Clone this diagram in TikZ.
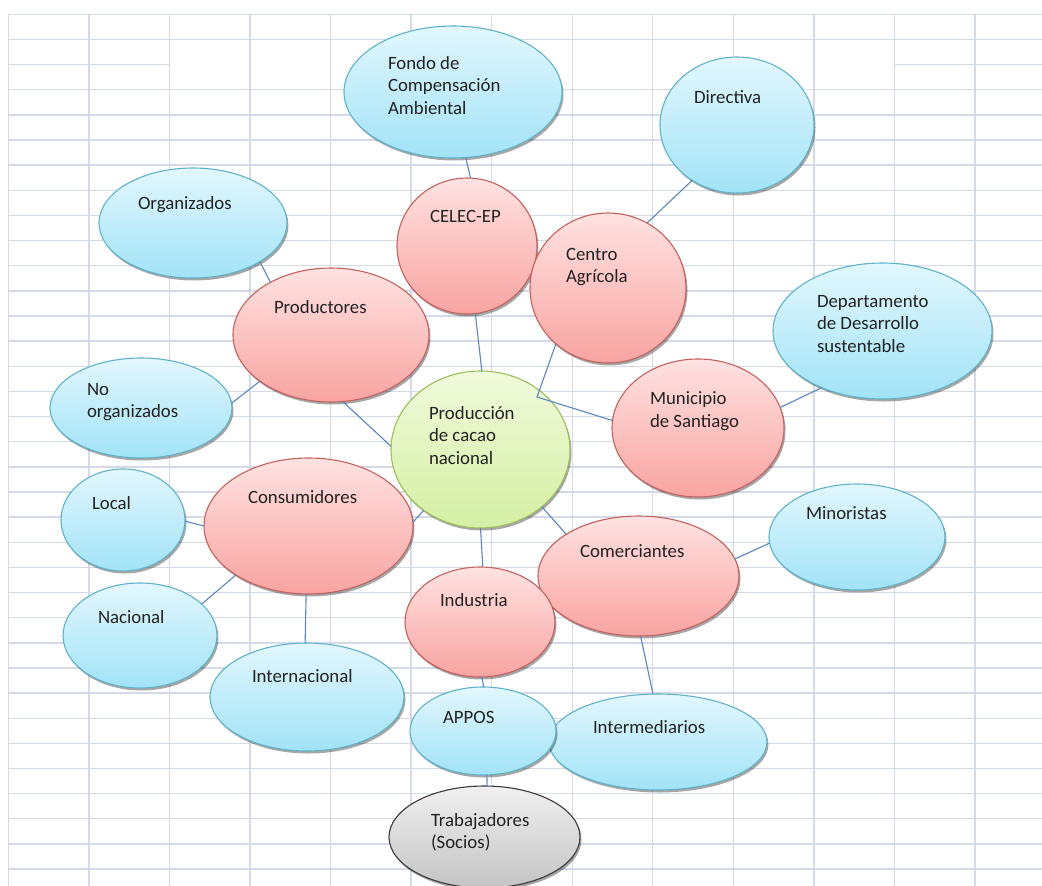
\documentclass[tikz,border=0pt]{standalone}
\usepackage{fontspec}
\setmainfont{Carlito}
\usetikzlibrary{shapes.geometric,shadows}
\definecolor{gridcol}{HTML}{D5DAE7}
\definecolor{linkcol}{HTML}{5A86BE}
\definecolor{bluetop}{HTML}{E2F7FD}
\definecolor{bluebot}{HTML}{A2E3F7}
\definecolor{blueline}{HTML}{60B2CA}
\definecolor{redtop}{HTML}{FFE2E2}
\definecolor{redbot}{HTML}{F8A4A1}
\definecolor{redline}{HTML}{C2615E}
\definecolor{greentop}{HTML}{F1FADB}
\definecolor{greenbot}{HTML}{D4EFA4}
\definecolor{greenline}{HTML}{9CBF5C}
\definecolor{graytop}{HTML}{F0F0F0}
\definecolor{graybot}{HTML}{C4C4C4}
\definecolor{grayline}{HTML}{3A3A3A}
\definecolor{textcol}{HTML}{222222}
\begin{document}
\begin{tikzpicture}[x=1pt,y=-1pt,
	gridln/.style={draw=gridcol, line width=1.4pt},
	link/.style={draw=linkcol, line width=1.1pt},
	bub/.style={ellipse, inner sep=0pt, outer sep=0pt, line width=1.1pt,
		drop shadow={shadow xshift=1.5pt, shadow yshift=-2.5pt, opacity=0.35, fill=black}},
	bluebub/.style={bub, draw=blueline, top color=bluetop, bottom color=bluebot},
	redbub/.style={bub, draw=redline, top color=redtop, bottom color=redbot},
	greenbub/.style={bub, draw=greenline, top color=greentop, bottom color=greenbot},
	graybub/.style={bub, draw=grayline, top color=graytop, bottom color=graybot},
	txt/.style={anchor=north west, inner sep=0pt, outer sep=0pt, align=left,
		text=textcol, font=\fontsize{18.8}{22.7}\selectfont}]
	\useasboundingbox[fill=white] (0,0) rectangle (1042,886);
	% grid
	\foreach \k in {0,...,34}{
		\pgfmathsetmacro\gy{14.3+25.14*\k}
		\ifnum\k=2
		\draw[gridln] (8.3,\gy) -- (169.4,\gy) (894,\gy) -- (1042,\gy);
		\else
		\draw[gridln] (8.3,\gy) -- (1042,\gy);
		\fi
	}
	\foreach \j in {0,...,12}
		\draw[gridln] (8.3+80.56*\j,14.3) -- (8.3+80.56*\j,886);
	% ellipses
	\node[bluebub, minimum width=218pt, minimum height=132pt] (fondo) at (453,92) {};
	\node[bluebub, minimum width=154pt, minimum height=136pt] (directiva) at (737,125) {};
	\node[bluebub, minimum width=188pt, minimum height=110pt] (organizados) at (193,223) {};
	\node[redbub, minimum width=140pt, minimum height=136pt] (celec) at (467,246) {};
	\node[redbub, minimum width=156pt, minimum height=150pt] (centro) at (608,288) {};
	\node[bluebub, minimum width=219pt, minimum height=136pt] (departamento) at (882.5,331) {};
	\node[redbub, minimum width=196pt, minimum height=134pt] (productores) at (331,335) {};
	\node[bluebub, minimum width=182pt, minimum height=100pt] (noorg) at (141,408) {};
	\node[redbub, minimum width=172pt, minimum height=138pt] (municipio) at (698,428) {};
	\node[greenbub, minimum width=179pt, minimum height=157pt] (produccion) at (480.5,449.5) {};
	\node[bluebub, minimum width=124pt, minimum height=102pt] (local) at (123,520) {};
	\node[redbub, minimum width=209pt, minimum height=136pt] (consumidores) at (308.5,526) {};
	\node[bluebub, minimum width=176pt, minimum height=106pt] (minoristas) at (857,537) {};
	\node[redbub, minimum width=201pt, minimum height=120pt] (comerciantes) at (638.5,576) {};
	\node[redbub, minimum width=150pt, minimum height=110pt] (industria) at (480,622) {};
	\node[bluebub, minimum width=154pt, minimum height=105pt] (nacional) at (140,635.5) {};
	\node[bluebub, minimum width=194pt, minimum height=108pt] (internacional) at (307,697) {};
	\node[bluebub, minimum width=218pt, minimum height=96pt] (intermediarios) at (658,742) {};
	\node[bluebub, minimum width=146pt, minimum height=88pt] (appos) at (483,731) {};
	\node[graybub, minimum width=191pt, minimum height=102pt] (trabajadores) at (484.5,837) {};
	\coordinate (junc) at (537,397);
	% connectors
	\draw[link] (fondo.-79) -- (celec.87);
	\draw[link] (directiva.231) -- (centro.59);
	\draw[link] (organizados.-30) -- (productores.139);
	\draw[link] (celec.-83) -- (produccion.89);
	\draw[link] (centro.227) -- (junc) -- (municipio.175);
	\draw[link] (productores.213) -- (noorg.3);
	\draw[link] (productores.-80) -- (produccion.178);
	\draw[link] (municipio.14) -- (departamento.223);
	\draw[link] (consumidores.2) -- (produccion.227);
	\draw[link] (local.-1) -- (consumidores.180);
	\draw[link] (nacional.27) -- (consumidores.214);
	\draw[link] (consumidores.268) -- (internacional.92);
	\draw[link] (produccion.-43) -- (comerciantes.150);
	\draw[link] (produccion.-90) -- (industria.87);
	\draw[link] (comerciantes.10) -- (minoristas.184);
	\draw[link] (comerciantes.-88) -- (intermediarios.96);
	\draw[link] (industria.-88) -- (appos.89);
	\draw[link] (appos.-85) -- (trabajadores.87);
	% labels
	\node[txt] (fondo-t) at (388,56) {Fondo de\\Compensación\\Ambiental};
	\node[txt] (directiva-t) at (694,91) {Directiva};
	\node[txt] (organizados-t) at (138,196) {Organizados};
	\node[txt] (celec-t) at (430,210) {CELEC-EP};
	\node[txt] (centro-t) at (566,248) {Centro\\Agrícola};
	\node[txt] (departamento-t) at (817,295) {Departamento\\de Desarrollo\\sustentable};
	\node[txt] (productores-t) at (274,300) {Productores};
	\node[txt] (noorg-t) at (87,383) {No\\organizados};
	\node[txt] (municipio-t) at (650,392) {Municipio\\de Santiago};
	\node[txt] (produccion-t) at (429,406) {Producción\\de cacao\\nacional};
	\node[txt] (local-t) at (92,496) {Local};
	\node[txt] (consumidores-t) at (248,490) {Consumidores};
	\node[txt] (minoristas-t) at (806,507) {Minoristas};
	\node[txt] (comerciantes-t) at (580,545) {Comerciantes};
	\node[txt] (industria-t) at (440,593) {Industria};
	\node[txt] (nacional-t) at (98,610) {Nacional};
	\node[txt] (internacional-t) at (252,669) {Internacional};
	\node[txt] (appos-t) at (443,711) {APPOS};
	\node[txt] (intermediarios-t) at (593,720) {Intermediarios};
	\node[txt] (trabajadores-t) at (431,813) {Trabajadores\\(Socios)};
\end{tikzpicture}
\end{document}
